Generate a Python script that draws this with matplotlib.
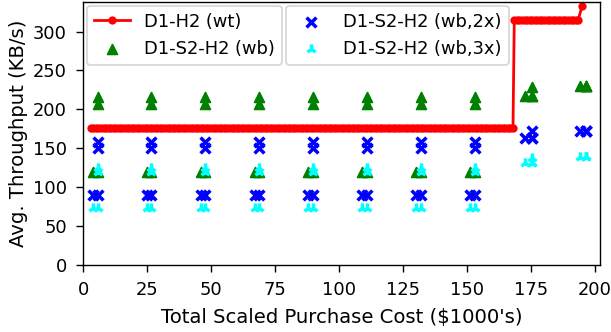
import numpy as np
import matplotlib
matplotlib.use("Agg")
import matplotlib.pyplot as plt

# red step line D1-H2 (wt): cost in $1000's, throughput KB/s
wt_cost = np.concatenate([np.arange(3, 168.5, 1.0), np.arange(168.5, 194, 1.0), [195.0]])
wt_thr = np.concatenate([np.full(166, 176.0), np.full(26, 315.0), [333.0]])

# scattered configurations (two sub-configs per purchase cost group)
grp_a = [3.8, 24.8, 45.9, 67.0, 88.0, 109.1, 130.2, 151.3, 172.7, 194.1]
grp_b = [5.7, 26.6, 47.7, 68.8, 89.8, 110.9, 132.0, 153.1, 175.3, 196.4]

wb_lo = [120, 120, 120, 120, 120, 120, 120, 120, 217, 230]
wb_hi1 = [207, 207, 207, 207, 207, 207, 207, 207, 217, 230]
wb_hi2 = [216, 216, 216, 216, 216, 216, 216, 216, 229, 230]

wb2_lo = [90, 90, 90, 90, 90, 90, 90, 90, 163, 172]
wb2_hi1 = [150, 150, 150, 150, 150, 150, 150, 150, 163, 172]
wb2_hi2 = [158, 158, 158, 158, 158, 158, 158, 158, 172, 172]

wb3_lo = [73, 73, 73, 73, 73, 73, 73, 73, 131, 139]
wb3_hi1 = [119, 119, 119, 119, 119, 119, 119, 119, 131, 139]
wb3_hi2 = [124, 124, 124, 124, 124, 124, 124, 124, 138, 139]


def pts(lo, hi1, hi2):
    x = grp_a + grp_b + grp_b + grp_b
    y = lo + lo + hi1 + hi2
    return x, y


fig = plt.figure(figsize=(611 / 125, 332 / 125), dpi=125)
ax = fig.add_axes([0.136, 0.202, 0.846, 0.792])

l1, = ax.plot(wt_cost, wt_thr, color="red", marker=".", markersize=7.5, linewidth=1.6,
              label="D1-H2 (wt)")
x, y = pts(wb_lo, wb_hi1, wb_hi2)
s1 = ax.scatter(x, y, marker="^", color="green", s=32, label="D1-S2-H2 (wb)")
x, y = pts(wb2_lo, wb2_hi1, wb2_hi2)
s2 = ax.scatter(x, y, marker="x", color="blue", s=32, linewidths=2,
                label="D1-S2-H2 (wb,2x)")
x, y = pts(wb3_lo, wb3_hi1, wb3_hi2)
s3 = ax.scatter(x, y, marker="2", color="cyan", s=35, linewidths=2,
                label="D1-S2-H2 (wb,3x)")

ax.set_xlim(0, 202)
ax.set_ylim(0, 338)
ax.set_xticks([0, 25, 50, 75, 100, 125, 150, 175, 200])
ax.set_yticks([0, 50, 100, 150, 200, 250, 300])
ax.tick_params(length=4.3, pad=5, labelsize=10.3)
ax.set_xlabel("Total Scaled Purchase Cost ($1000's)", fontsize=11.3, labelpad=5)
ax.set_ylabel("Avg. Throughput (KB/s)", fontsize=11.3, labelpad=3)

leg1 = ax.legend(handles=[l1, s1], loc="upper left", borderaxespad=0.2,
                 fontsize=10.3)
ax.add_artist(leg1)
ax.legend(handles=[s2, s3], loc="upper left", fontsize=10.3,
          bbox_to_anchor=(0.385, 1.0), borderaxespad=0.2)

fig.savefig("out.png", dpi=125)
